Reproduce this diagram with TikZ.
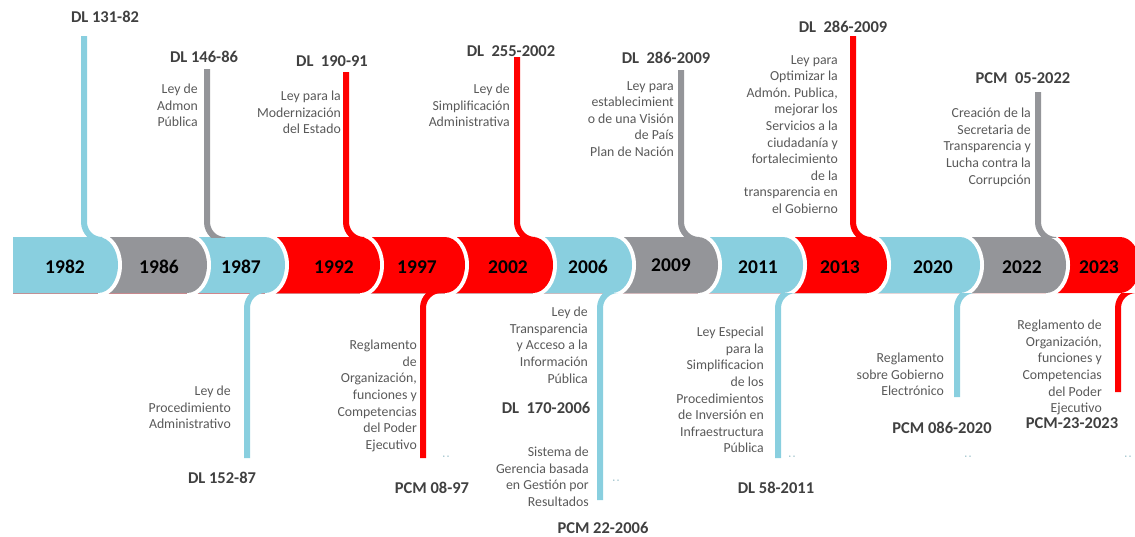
\documentclass[tikz,border=0pt]{standalone}
\usepackage{fontspec}
\setmainfont{Carlito}
\frenchspacing
\usetikzlibrary{positioning}
\definecolor{celeste}{RGB}{137,207,223}
\definecolor{gris}{RGB}{148,149,153}
\definecolor{rojo}{RGB}{255,0,0}
\definecolor{texto}{RGB}{89,89,89}
\definecolor{titulo}{RGB}{64,64,64}
\tikzset{
x=1pt, y=-1pt, % one unit = one pixel, y grows downwards
every node/.style={inner sep=0pt},
anio/.style={font=\fontsize{19.5}{19.5}\selectfont\bfseries, text=black},
norma/.style={font=\fontsize{16.5}{16.5}\selectfont\bfseries, text=titulo},
desc/.style={font=\fontsize{13.8}{16.6}\selectfont, text=texto, align=right, anchor=north east},
enlace/.style={line width=6pt, rounded corners=18pt},
puntos/.style={font=\fontsize{10}{10}\selectfont, text=celeste!60!gris}
}
% one piece of the band: colour, right end
\newcommand\tramo[2]{%
  \draw[white, line width=8pt] (#2-20,237) arc[start angle=-90, end angle=90, x radius=20, y radius=28];
  \fill[#1] (13,237) -- (#2-20,237) arc[start angle=-90, end angle=90, x radius=20, y radius=28] -- (13,293) -- cycle;}

\begin{document}
\begin{tikzpicture}
\useasboundingbox (0,0) rectangle (1135,536);
% band, drawn from right to left
\tramo{rojo}{1140}
\tramo{gris}{1066}
\tramo{celeste}{980}
\tramo{rojo}{887}
\tramo{celeste}{803}
\tramo{gris}{718}
\tramo{celeste}{632}
\tramo{rojo}{553}
\tramo{rojo}{465}
\tramo{rojo}{380}
\tramo{celeste}{285}
\tramo{gris}{207}
\tramo{celeste}{118}

% years
\node[anio] (y1982) at (65,267) {1982};
\node[anio] (y1986) at (159,267) {1986};
\node[anio] (y1987) at (241,267) {1987};
\node[anio] (y1992) at (334,267) {1992};
\node[anio] (y1997) at (417,267) {1997};
\node[anio] (y2002) at (508,267) {2002};
\node[anio] (y2006) at (588,267) {2006};
\node[anio] (y2009) at (671,265) {2009};
\node[anio] (y2011) at (758,267) {2011};
\node[anio] (y2013) at (840,267) {2013};
\node[anio] (y2020) at (933,267) {2020};
\node[anio] (y2022) at (1022,267) {2022};
\node[anio] (y2023) at (1099,267) {2023};

% connectors above the band
\coordinate (a82) at (84,36);    \coordinate (b82) at (102,240);
\coordinate (a86) at (207,69);   \coordinate (b86) at (225,240);
\coordinate (a92) at (346,72);   \coordinate (b92) at (364,240);
\coordinate (a02) at (517,57);   \coordinate (b02) at (535,240);
\coordinate (a09) at (681,70);   \coordinate (b09) at (699,240);
\coordinate (a13) at (853,36);   \coordinate (b13) at (871,240);
\coordinate (a22) at (1038,92);  \coordinate (b22) at (1056,240);
\begin{scope}
\clip (0,0) rectangle (1135,237);
\draw[enlace, celeste] (a82) |- (b82);
\draw[enlace, gris] (a86) |- (b86);
\draw[enlace, rojo] (a92) |- (b92);
\draw[enlace, rojo] (a02) |- (b02);
\draw[enlace, gris] (a09) |- (b09);
\draw[enlace, rojo] (a13) |- (b13);
\draw[enlace, gris] (a22) |- (b22);
\end{scope}

% connectors below the band
\coordinate (a87) at (247,458);  \coordinate (b87) at (265,290);
\coordinate (a97) at (423,458);  \coordinate (b97) at (441,290);
\coordinate (a06) at (600,500);  \coordinate (b06) at (618,290);
\coordinate (a11) at (778,458);  \coordinate (b11) at (796,290);
\coordinate (a20) at (957,397);  \coordinate (b20) at (975,290);
\coordinate (a23) at (1118,392); \coordinate (b23) at (1136,290);
\begin{scope}
\clip (0,293) rectangle (1135,536);
\draw[enlace, celeste] (a87) |- (b87);
\draw[enlace, rojo] (a97) |- (b97);
\draw[enlace, celeste] (a06) |- (b06);
\draw[enlace, celeste] (a11) |- (b11);
\draw[enlace, celeste] (a20) |- (b20);
\draw[enlace, rojo] (a23) |- (b23);
\end{scope}

% norms above
\node[norma] (n82) at (105,17) {DL 131-82};
\node[norma] (n86) at (204,57) {DL 146-86};
\node[norma] (n92) at (332,61) {DL~~190-91};
\node[norma] (n02) at (511,51) {DL~~255-2002};
\node[norma] (n09) at (666,58) {DL~~286-2009};
\node[norma] (n13) at (843,27) {DL~~286-2009};
\node[norma] (n22) at (1023,78) {PCM~~05-2022};
\node[desc] (d86) at (198,84) {Ley de\\Admon\\Pública};
\node[desc] (d92) at (341,91) {Ley para la\\Modernización\\del Estado};
\node[desc] (d02) at (510,84) {Ley de\\Simplificación\\Administrativa};
\node[desc] (d09) at (674,81) {Ley para\\establecimient\\o de una Visión\\de País\\Plan de Nación};
\node[desc] (d13) at (838,55) {Ley para\\Optimizar la\\Admón. Publica,\\mejorar los\\Servicios a la\\ciudadanía y\\fortalecimiento\\de la\\transparencia en\\el Gobierno};
\node[desc] (d22) at (1031,108) {Creación de la\\Secretaria de\\Transparencia y\\Lucha contra la\\Corrupción};

% norms below
\node[desc] (d87) at (231,386) {Ley de\\Procedimiento\\Administrativo};
\node[norma] (n87) at (222,478) {DL 152-87};
\node[desc] (d97) at (417,340) {Reglamento\\de\\Organización,\\funciones y\\Competencias\\del Poder\\Ejecutivo};
\node[norma] (n97) at (432,488) {PCM 08-97};
\node[desc] (d06) at (588,307) {Ley de\\Transparencia\\y Acceso a la\\Información\\Pública};
\node[norma] (n06) at (546,408) {DL~~170-2006};
\node[desc] (e06) at (589,447) {Sistema de\\Gerencia basada\\en Gestión por\\Resultados};
\node[norma] (m06) at (603,528) {PCM 22-2006};
\node[desc] (d11) at (764,327) {Ley Especial\\para la\\Simplificacion\\de los\\Procedimientos\\de Inversión en\\Infraestructura\\Pública};
\node[norma] (n11) at (776,488) {DL 58-2011};
\node[desc] (d20) at (944,353) {Reglamento\\sobre Gobierno\\Electrónico};
\node[norma] (n20) at (942,428) {PCM 086-2020};
\node[desc] (d23) at (1102,320) {Reglamento de\\Organización,\\funciones y\\Competencias\\del Poder\\Ejecutivo};
\node[norma] (n23) at (1072,423) {PCM-23-2023};

% small dots
\node[puntos] (p97) at (446,458) {·\,·};
\node[puntos] (p06) at (616,482) {·\,·};
\node[puntos] (p11) at (792,458) {·\,·};
\node[puntos] (p20) at (968,458) {·\,·};
\node[puntos] (p23) at (1128,458) {·\,·};
\end{tikzpicture}
\end{document}
